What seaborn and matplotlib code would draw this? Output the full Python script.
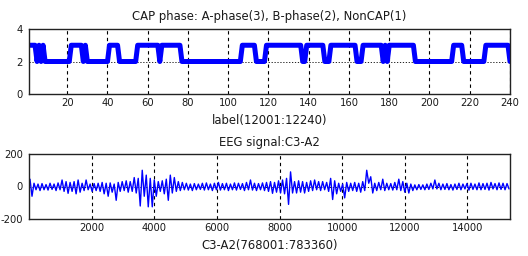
import numpy as np
import pandas as pd
import matplotlib
matplotlib.use("Agg")
import matplotlib.pyplot as plt
import seaborn as sns

# ---------------- data ----------------
# CAP label sequence (samples 12001..12240), run-length encoded: start index (1-based) and value
cap_run_start = [1, 5, 6, 7, 8, 9, 22, 28, 29, 30, 41, 46, 55, 66, 67, 77, 107, 114, 119,
                 137, 139, 148, 151, 164, 167, 177, 178, 179, 180, 181, 193, 212, 217, 228, 240]
cap_run_value = [3, 2, 3, 2, 3, 2, 3, 2, 3, 2, 3, 2, 3, 2, 3, 2, 3, 2, 3,
                 2, 3, 2, 3, 2, 3, 2, 3, 2, 3, 3, 2, 3, 2, 3, 2]
cap_n = 240

# EEG C3-A2 (samples 768001..783360): per block of 128 samples, max and min
eeg_block_max = [45, 20, 15, 18, 12, 20, 15, 22, 40, 30, 25, 30, 40, 20, 40, 15, 18, 20, 25, 20,
                 22, 15, 25, 30, 35, 30, 55, 50, 100, 70, 50, 40, 30, 35, 45, 70, 55, 30, 25, 20,
                 15, 18, 15, 20, 22, 15, 20, 25, 18, 20, 15, 22, 20, 18, 25, 40, 20, 18, 22, 25,
                 30, 25, 35, 40, 50, 90, 30, 35, 30, 25, 35, 40, 30, 30, 25, 50, 35, 20, 15, 25,
                 20, 25, 20, 30, 100, 60, 20, 25, 45, 20, 18, 25, 45, 30, 20, 15, 10, 12, 10, 15,
                 20, 40, 20, 15, 18, 12, 15, 20, 15, 18, 20, 15, 22, 18, 20, 25, 18, 22, 20, 18]
eeg_block_min = [-60, -20, -25, -20, -22, -18, -25, -20, -30, -42, -30, -45, -35, -25, -20, -30, -25, -30, -45, -60,
                 -35, -85, -30, -25, -35, -30, -40, -120, -60, -125, -125, -60, -30, -45, -85, -40, -30, -25, -20, -22,
                 -25, -20, -18, -22, -20, -25, -20, -22, -20, -25, -20, -22, -18, -25, -20, -22, -25, -20, -25, -30,
                 -42, -35, -40, -45, -110, -40, -40, -35, -40, -30, -25, -20, -25, -20, -30, -80, -45, -30, -70, -30,
                 -25, -30, -35, -25, 20, -40, -25, -20, -25, -20, -22, -20, -25, -35, -40, -25, -20, -18, -20, -18,
                 -15, -15, -20, -18, -20, -22, -18, -20, -15, -22, -18, -20, -20, -18, -22, -15, -20, -18, -20, -15]
eeg_block = 128
eeg_n = 15360

cap_xticks = [20, 40, 60, 80, 100, 120, 140, 160, 180, 200, 220, 240]
cap_yticks = [0, 2, 4]
eeg_xticks = [2000, 4000, 6000, 8000, 10000, 12000, 14000]
eeg_yticks = [-200, 0, 200]

title_top = "CAP phase: A-phase(3), B-phase(2), NonCAP(1)"
xlabel_top = "label(12001:12240)"
title_bot = "EEG signal:C3-A2"
xlabel_bot = "C3-A2(768001:783360)"

# ---------------- build frames ----------------
run_len = np.diff(cap_run_start + [cap_n + 1])
cap_vals = np.repeat(cap_run_value, run_len)
cap_df = pd.DataFrame({"idx": np.arange(1, cap_n + 1), "label": cap_vals})

eeg_vals = np.ravel(np.column_stack([eeg_block_max, eeg_block_min]))
eeg_pos = 1 + np.arange(len(eeg_vals)) * (eeg_block // 2) + eeg_block // 4
eeg_df = pd.DataFrame({"sample": eeg_pos, "value": eeg_vals})

# ---------------- style ----------------
sns.set_theme(style="white")
plt.rcParams["font.family"] = ["DejaVu Sans"]
plt.rcParams["axes.unicode_minus"] = False
FS = 7.2
FT = 8.4
BLUE = "#0000ff"
TXT = "#1a1a1a"

fig = plt.figure(figsize=(5.28, 2.56), dpi=100)
W, H = 528, 256
ax1 = fig.add_axes([29 / W, 1 - 94 / H, 481 / W, 65 / H])
ax2 = fig.add_axes([29 / W, 1 - 219 / H, 481 / W, 65 / H])

sns.lineplot(data=cap_df, x="idx", y="label", ax=ax1, color=BLUE, linewidth=3.6,
             estimator=None, sort=False)
sns.lineplot(data=eeg_df, x="sample", y="value", ax=ax2, color=BLUE, linewidth=1.0,
             estimator=None, sort=False)

def style(ax, xlim, ylim, xticks, yticks, title, xlabel, tpad, lpad):
    ax.set_xlim(*xlim)
    ax.set_ylim(*ylim)
    ax.set_xticks(xticks)
    ax.set_yticks(yticks)
    ax.set_xticklabels([str(t) for t in xticks], fontsize=FS)
    ax.set_yticklabels([str(t) for t in yticks], fontsize=FS)
    ax.set_title(title, fontsize=FT, pad=tpad, color=TXT)
    ax.set_xlabel(xlabel, fontsize=FT, labelpad=lpad, color=TXT)
    ax.set_ylabel("")
    ax.tick_params(axis="both", direction="in", length=2, width=0.6, pad=4.3,
                   colors="black", labelcolor=TXT)
    ax.tick_params(axis="x", pad=3)
    for sp in ax.spines.values():
        sp.set_color("#222222")
        sp.set_linewidth(1.0)
    ax.grid(True, axis="x", color="black", linestyle=(0, (3, 3)), linewidth=0.8)
    ax.grid(True, axis="y", color="black", linestyle=(0, (1.5, 2)), linewidth=0.6)
    ax.set_axisbelow(True)

style(ax1, (1, 240), (0, 4), cap_xticks, cap_yticks, title_top, xlabel_top, 6.5, 4.5)
style(ax2, (1, 15360), (-200, 200), eeg_xticks, eeg_yticks, title_bot, xlabel_bot, 6.0, 4.0)

fig.savefig("out.png", dpi=100)
